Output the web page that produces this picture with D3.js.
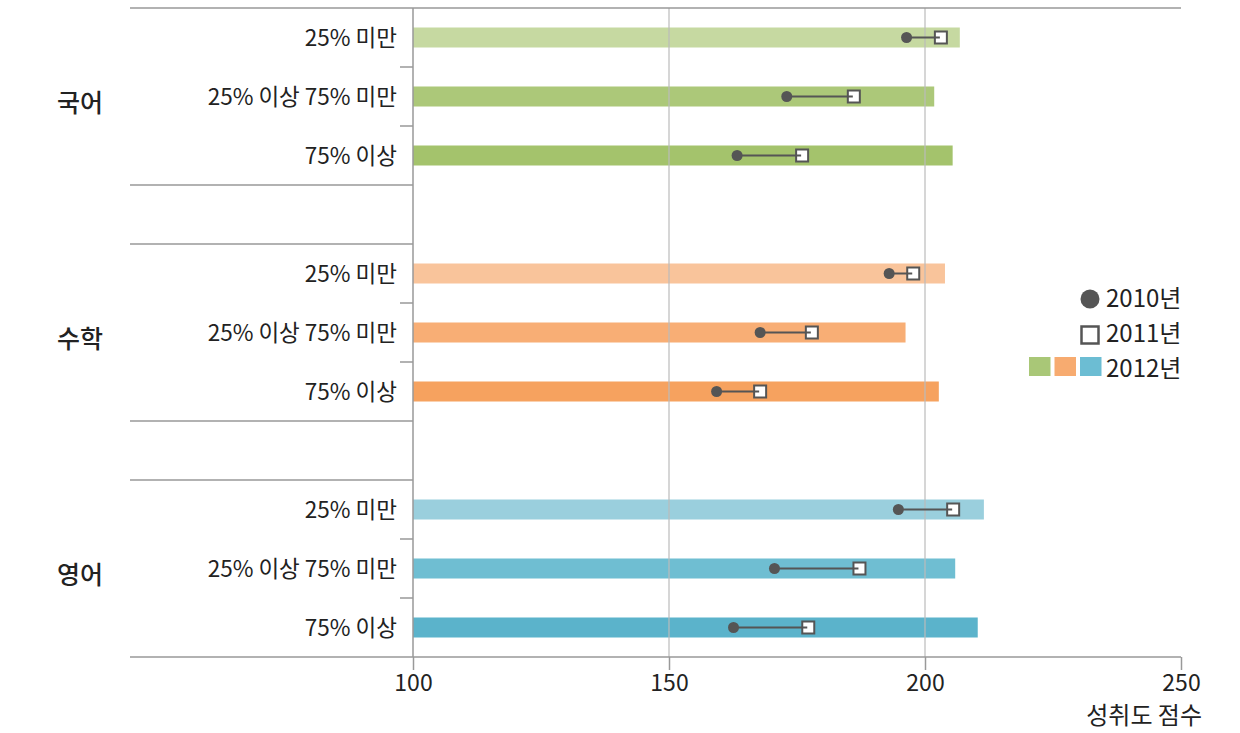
<!DOCTYPE html>
<html><head><meta charset="utf-8">
<script src="https://cdn.jsdelivr.net/npm/d3@7/dist/d3.min.js"></script>
<style>
body{margin:0;background:#fff;}
text{font-family:"Noto Sans CJK KR","Noto Sans",sans-serif;fill:#222;}
</style></head>
<body><svg id="c" width="1240" height="733"></svg>
<script>
const subjects = ["국어","수학","영어"];
const levels = ["25% 미만","25% 이상 75% 미만","75% 이상"];
const v2012 = [[206.8,201.8,205.4],[203.9,196.2,202.7],[211.5,205.9,210.3]];
const v2010 = [[196.4,173.0,163.3],[193.0,167.8,159.3],[194.8,170.6,162.6]];
const v2011 = [[203.1,186.1,176.0],[197.7,177.9,167.8],[205.5,187.2,177.2]];
const xTicks = [100,150,200,250];
const legendLabels = ["2010년","2011년","2012년"];
const axisTitle = "성취도 점수";
const colors = [["#c6d9a1","#acc879","#a4c36c"],["#f9c49b","#f8ae75","#f6a25f"],["#9acfdd","#6fbed2","#5bb3cb"]];
const legendColors = ["#a9c777","#f7ab70","#6cbdd3"];

const svg = d3.select("#c");
const x = d3.scaleLinear().domain([100,250]).range([413,1181]);
const slots = d3.range(11);
const y = d3.scaleBand().domain(slots).range([8,657]).padding(0);
const slotOf = (g,i)=> g*4+i;
const rows = [];
subjects.forEach((s,g)=>levels.forEach((l,i)=>rows.push({g,i,s,l,slot:slotOf(g,i),b:v2012[g][i],c:v2010[g][i],q:v2011[g][i]})));
const yc = d => y(d.slot)+y.bandwidth()/2;
const lineC = "#999";

svg.selectAll("rect.bar").data(rows).join("rect")
  .attr("x",x(100)).attr("y",d=>yc(d)-10).attr("height",20)
  .attr("width",d=>x(d.b)-x(100)).attr("fill",d=>colors[d.g][d.i]);

svg.selectAll("line.grid").data(xTicks.filter(t=>t>100&&t<250)).join("line")
  .attr("x1",d=>x(d)).attr("x2",d=>x(d)).attr("y1",8).attr("y2",657)
  .attr("stroke","#bbb").attr("stroke-width",1.2);

const ax = svg.append("g").attr("transform","translate(0,657)")
  .call(d3.axisBottom(x).tickValues(xTicks).tickSize(13).tickPadding(5).tickFormat(d3.format("d")));
ax.select(".domain").remove();
ax.selectAll("line").attr("stroke",lineC).attr("stroke-width",1.5);
ax.selectAll("text").attr("font-size",23).attr("fill","#222").style("font-family","'Noto Sans CJK KR',sans-serif");
svg.append("text").attr("x",1202).attr("y",724).attr("text-anchor","end").attr("font-size",24).text(axisTitle);

svg.append("line").attr("x1",130).attr("x2",x(250)).attr("y1",8).attr("y2",8).attr("stroke",lineC).attr("stroke-width",1.5);
svg.append("line").attr("x1",130).attr("x2",x(250)).attr("y1",657).attr("y2",657).attr("stroke",lineC).attr("stroke-width",1.5);
[3,4,7,8].forEach(s=>{
  svg.append("line").attr("x1",130).attr("x2",x(100)).attr("y1",y(s)).attr("y2",y(s)).attr("stroke",lineC).attr("stroke-width",1.5);
});
[1,2,5,6,9,10].forEach(s=>{
  svg.append("line").attr("x1",400).attr("x2",x(100)).attr("y1",y(s)).attr("y2",y(s)).attr("stroke",lineC).attr("stroke-width",1.5);
});
svg.append("line").attr("x1",x(100)).attr("x2",x(100)).attr("y1",8).attr("y2",657).attr("stroke",lineC).attr("stroke-width",1.5);

svg.selectAll("text.rl").data(rows).join("text")
  .attr("x",397).attr("y",d=>yc(d)+8).attr("text-anchor","end").attr("font-size",22.5).text(d=>d.l);
svg.selectAll("text.gl").data(subjects).join("text")
  .attr("x",57).attr("y",(d,g)=>y(slotOf(g,1))+y.bandwidth()/2+15).attr("font-size",25).attr("font-weight",500).text(d=>d);

const mk = "#555";
svg.selectAll("rect.sq").data(rows).join("rect")
  .attr("x",d=>x(d.q)-6).attr("y",d=>yc(d)-6).attr("width",12).attr("height",12)
  .attr("fill","#fff").attr("stroke",mk).attr("stroke-width",2);
svg.selectAll("line.cn").data(rows).join("line")
  .attr("x1",d=>x(d.c)).attr("x2",d=>x(d.q)-1).attr("y1",yc).attr("y2",yc)
  .attr("stroke",mk).attr("stroke-width",2);
svg.selectAll("circle.ci").data(rows).join("circle")
  .attr("cx",d=>x(d.c)).attr("cy",yc).attr("r",5.5).attr("fill",mk);

const lg = svg.append("g");
lg.append("circle").attr("cx",1090).attr("cy",299).attr("r",9.5).attr("fill",mk);
lg.append("rect").attr("x",1081.5).attr("y",326.5).attr("width",17).attr("height",17).attr("fill","#fff").attr("stroke",mk).attr("stroke-width",2.5);
lg.selectAll("rect.lc").data(legendColors).join("rect")
  .attr("x",(d,i)=>1029+i*25.5).attr("y",357).attr("width",21.5).attr("height",19).attr("fill",d=>d);
lg.selectAll("text.lt").data(legendLabels).join("text")
  .attr("x",1106).attr("y",(d,i)=>307+i*35).attr("font-size",24).text(d=>d);
</script></body></html>
